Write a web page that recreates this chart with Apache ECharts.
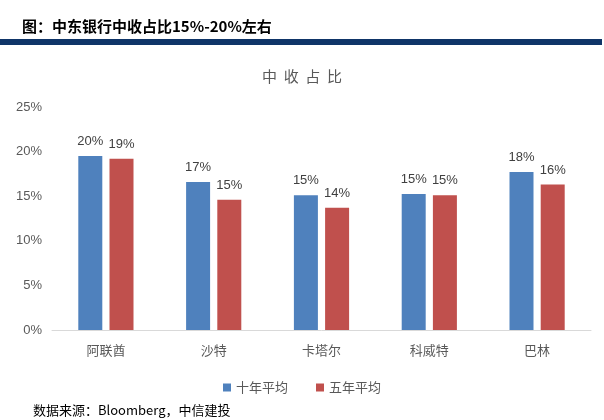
<!DOCTYPE html>
<html>
<head>
<meta charset="utf-8">
<script src="https://cdn.jsdelivr.net/npm/echarts@6/dist/echarts.min.js"></script>
<style>
    html, body { margin: 0; padding: 0; background: #fff; }
    #chart { width: 604px; height: 420px; }
</style>
</head>
<body>
<div id="chart"></div>
<script>
var categories = ['阿联酋', '沙特', '卡塔尔', '科威特', '巴林'];
var tenYear = [19.5, 16.6, 15.1, 15.25, 17.7];   // 十年平均
var fiveYear = [19.2, 14.6, 13.7, 15.1, 16.3];   // 五年平均
var seriesNames = ['十年平均', '五年平均'];

var cjk = '"Noto Sans CJK SC", sans-serif';

var myChart = echarts.init(document.getElementById('chart'));
var option = {
    backgroundColor: '#fff',
    animation: false,
    title: [{
        text: '图：中东银行中收占比15%-20%左右',
        left: 17,
        top: 14,
        textStyle: { fontSize: 15, fontWeight: 'bold', color: '#000', fontFamily: cjk }
    }, {
        text: '中  收  占  比',
        left: 'center',
        top: 64,
        textStyle: { fontSize: 15, fontWeight: 'normal', color: '#595959', fontFamily: cjk }
    }, {
        text: '数据来源：Bloomberg，中信建投',
        left: 28,
        top: 399,
        textStyle: { fontSize: 13, fontWeight: 'normal', color: '#000', fontFamily: cjk }
    }],
    graphic: [{
        type: 'rect',
        shape: { x: 0, y: 39, width: 602, height: 6 },
        style: { fill: '#0F3568' }
    }],
    legend: {
        data: seriesNames,
        left: 'center',
        top: 376,
        itemWidth: 8,
        itemHeight: 8,
        itemGap: 28,
        icon: 'rect',
        textStyle: { fontSize: 13, color: '#595959', fontFamily: cjk }
    },
    grid: { left: 52, right: 13, top: 107, bottom: 90, containLabel: false },
    xAxis: {
        type: 'category',
        data: categories,
        axisLine: { lineStyle: { color: '#d9d9d9' } },
        axisTick: { show: false },
        axisLabel: { fontSize: 13, color: '#595959', margin: 14, fontFamily: cjk }
    },
    yAxis: {
        type: 'value',
        min: 0,
        max: 25,
        interval: 5,
        splitLine: { show: false },
        axisLine: { show: false },
        axisTick: { show: false },
        axisLabel: {
            fontSize: 13, color: '#595959', margin: 10,
            fontFamily: 'Arial, "Liberation Sans", sans-serif',
            formatter: '{value}%'
        }
    },
    series: [{
        name: seriesNames[0],
        type: 'bar',
        data: tenYear,
        barWidth: 24,
        barGap: '30%',
        itemStyle: { color: '#4F81BD' },
        label: {
            show: true, position: 'top', distance: 8,
            fontSize: 13, color: '#404040',
            fontFamily: 'Arial, "Liberation Sans", sans-serif',
            formatter: function (p) { return Math.round(p.value) + '%'; }
        }
    }, {
        name: seriesNames[1],
        type: 'bar',
        data: fiveYear,
        barWidth: 24,
        itemStyle: { color: '#C0504D' },
        label: {
            show: true, position: 'top', distance: 8,
            fontSize: 13, color: '#404040',
            fontFamily: 'Arial, "Liberation Sans", sans-serif',
            formatter: function (p) { return Math.round(p.value) + '%'; }
        }
    }]
};
myChart.setOption(option);
</script>
</body>
</html>
